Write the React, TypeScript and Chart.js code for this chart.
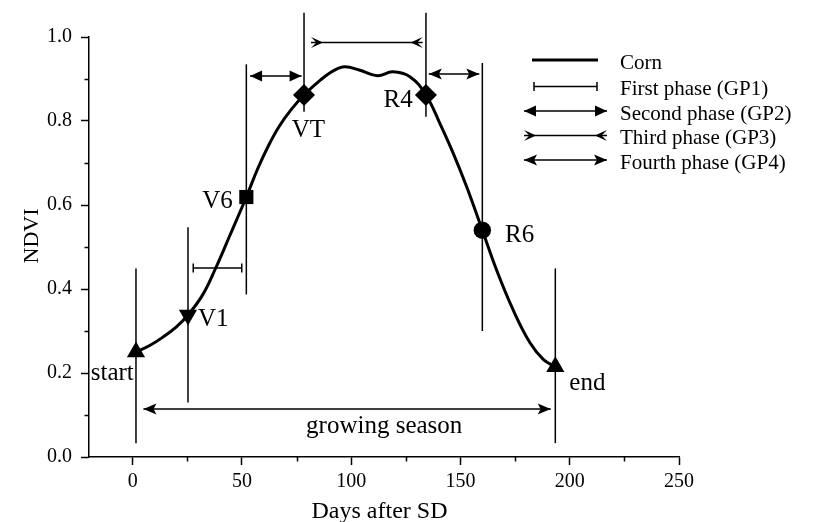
import React, { useEffect, useRef } from 'react';
import { Chart, registerables } from 'chart.js';

Chart.register(...registerables);

const FONT = "'Liberation Serif', 'Times New Roman', Times, serif";

// ---- data ----
const cornDays = [1.5, 8, 14, 20, 25.3, 32, 38, 44.5, 52, 57, 62, 67, 72.5, 78.4, 86, 92, 97, 104, 112, 119, 127, 134.2, 140.6, 146.7, 153, 160, 166.6, 174.2, 181.8, 188, 193.4];
const cornNdvi = [0.25, 0.266, 0.286, 0.31, 0.338, 0.386, 0.45, 0.528, 0.619, 0.684, 0.74, 0.787, 0.827, 0.862, 0.898, 0.92, 0.929, 0.921, 0.908, 0.917, 0.905, 0.862, 0.794, 0.723, 0.641, 0.54, 0.444, 0.349, 0.272, 0.232, 0.215];

const stageNames = ['start', 'V1', 'V6', 'VT', 'R4', 'R6', 'end'];
const stageDays = [1.5, 25.3, 52, 78.4, 134.2, 160, 193.4];
const stageNdvi = [0.25, 0.338, 0.619, 0.862, 0.862, 0.54, 0.215];
const stageLineLow = [0.033, 0.13, 0.387, 0.822, 0.81, 0.3, 0.033];
const stageLineHigh = [0.449, 0.547, 0.935, 1.058, 1.058, 0.938, 0.449];

const arrowNames = ['GP1', 'GP2', 'GP3', 'GP4', 'growing season'];
const arrowFrom = [27.7, 53.7, 81.6, 135.5, 4.9];
const arrowTo = [49.9, 77.3, 132.7, 158.6, 191.3];
const arrowNdvi = [0.45, 0.907, 0.987, 0.912, 0.114];

const labelTexts = ['start', 'V1', 'V6', 'VT', 'R4', 'R6', 'end', 'growing season'];
const labelDays = [-19.2, 29.9, 45.8, 80.4, 128.1, 170.4, 199.8, 115.1];
const labelNdvi = [0.183, 0.312, 0.593, 0.763, 0.8345, 0.511, 0.16, 0.056];

const xMajorTicks = [0, 50, 100, 150, 200, 250];
const xMinorTicks = [25, 75, 125, 175, 225];
const yMajorTicks = [0, 0.2, 0.4, 0.6, 0.8, 1.0];
const yMinorTicks = [0.1, 0.3, 0.5, 0.7, 0.9];

const legendLabels = ['Corn', 'First phase (GP1)', 'Second phase (GP2)', 'Third phase (GP3)', 'Fourth phase (GP4)'];

// ---- styles ----
const stageMarkerStyles = ['triangle', 'triangle', 'rect', 'rectRot', 'rectRot', 'circle', 'triangle'];
const stageMarkerRotation = [0, 180, 0, 0, 0, 0, 0];
const stageMarkerRadius = [10.5, 10.5, 10, 11, 11, 8.7, 10.5];
const labelAligns: CanvasTextAlign[] = ['left', 'left', 'right', 'center', 'right', 'left', 'left', 'center'];
const arrowStyles = ['cap', 'tri', 'dart', 'barb', 'barb'];
const legendStyles = ['line', 'cap', 'tri', 'dart', 'barb'];

function drawHead(ctx: CanvasRenderingContext2D, style: string, x: number, y: number, dir: number) {
  ctx.beginPath();
  if (style === 'cap') {
    ctx.moveTo(x, y - 4.5);
    ctx.lineTo(x, y + 4.5);
    ctx.stroke();
  } else if (style === 'tri') {
    const L = 12, W = 5.5;
    ctx.moveTo(x, y);
    ctx.lineTo(x - dir * L, y - W);
    ctx.lineTo(x - dir * L, y + W);
    ctx.closePath();
    ctx.fill();
  } else if (style === 'dart') {
    const L = 12, W = 5.5;
    ctx.moveTo(x, y - W);
    ctx.lineTo(x - dir * L, y);
    ctx.lineTo(x, y + W);
    ctx.lineTo(x - dir * L * 0.45, y);
    ctx.closePath();
    ctx.fill();
  } else if (style === 'barb') {
    const L = 13, W = 5.5;
    ctx.moveTo(x, y);
    ctx.lineTo(x - dir * L, y - W);
    ctx.lineTo(x - dir * L * 0.78, y);
    ctx.lineTo(x - dir * L, y + W);
    ctx.closePath();
    ctx.fill();
  }
}

const decorPlugin = {
  id: 'decor',
  afterDatasetsDraw(chart: any) {
    const ctx: CanvasRenderingContext2D = chart.ctx;
    const xs = chart.scales.x;
    const ys = chart.scales.y;
    const area = chart.chartArea;
    ctx.save();
    ctx.fillStyle = '#000';
    ctx.strokeStyle = '#000';
    ctx.lineWidth = 1.5;

    arrowNames.forEach((_, i) => {
      const x1 = xs.getPixelForValue(arrowFrom[i]);
      const x2 = xs.getPixelForValue(arrowTo[i]);
      const y = ys.getPixelForValue(arrowNdvi[i]);
      drawHead(ctx, arrowStyles[i], x1, y, -1);
      drawHead(ctx, arrowStyles[i], x2, y, 1);
    });

    ctx.beginPath();
    xMinorTicks.forEach((v) => {
      const px = Math.round(xs.getPixelForValue(v)) + 0.5;
      ctx.moveTo(px, area.bottom);
      ctx.lineTo(px, area.bottom + 4.5);
    });
    yMinorTicks.forEach((v) => {
      const py = Math.round(ys.getPixelForValue(v)) + 0.5;
      ctx.moveTo(area.left - 4.5, py);
      ctx.lineTo(area.left, py);
    });
    ctx.stroke();

    ctx.font = `25px ${FONT}`;
    ctx.textBaseline = 'alphabetic';
    labelTexts.forEach((t, i) => {
      ctx.textAlign = labelAligns[i];
      ctx.fillText(t, xs.getPixelForValue(labelDays[i]), ys.getPixelForValue(labelNdvi[i]));
    });

    ctx.font = `24px ${FONT}`;
    ctx.textAlign = 'center';
    ctx.fillText('Days after SD', (area.left + area.right) / 2 - 4.5, area.bottom + 60.5);
    ctx.save();
    ctx.translate(area.left - 56.5, (area.top + area.bottom) / 2 - 11);
    ctx.rotate(-Math.PI / 2);
    ctx.font = `22px ${FONT}`;
    ctx.textBaseline = 'middle';
    ctx.fillText('NDVI', 0, 0);
    ctx.restore();

    const lx1 = area.left + 435;
    const lx2 = area.left + 518;
    const rowY = [60, 86.5, 111, 135.5, 160];
    legendLabels.forEach((t, i) => {
      const y = rowY[i];
      const s = legendStyles[i];
      let a = lx1, b = lx2;
      if (s === 'line') { a = lx1 + 8; b = lx2 - 9; }
      if (s === 'cap') { a = lx1 + 10; b = lx2 - 10; }
      ctx.beginPath();
      ctx.lineWidth = s === 'line' ? 3 : 1.5;
      ctx.moveTo(a, y);
      ctx.lineTo(b, y);
      ctx.stroke();
      ctx.lineWidth = 1.5;
      if (s !== 'line') {
        drawHead(ctx, s, a, y, -1);
        drawHead(ctx, s, b, y, 1);
      }
      ctx.font = `21px ${FONT}`;
      ctx.textAlign = 'left';
      ctx.textBaseline = 'alphabetic';
      ctx.fillText(t, area.left + 531, y + 8.5);
    });
    ctx.restore();
  },
};

export default function App() {
  const ref = useRef<HTMLCanvasElement>(null);
  useEffect(() => {
    const canvas = ref.current;
    if (!canvas) return;
    Chart.defaults.font.family = FONT;
    Chart.defaults.color = '#000';

    const datasets: any[] = [];
    datasets.push({
      label: 'stages',
      data: stageDays.map((d, i) => ({ x: d, y: stageNdvi[i] })),
      showLine: false,
      pointStyle: stageMarkerStyles,
      pointRotation: stageMarkerRotation,
      pointRadius: stageMarkerRadius,
      pointBackgroundColor: '#000',
      pointBorderColor: '#000',
      pointBorderWidth: 0,
      clip: false,
    });
    datasets.push({
      label: 'Corn',
      data: cornDays.map((d, i) => ({ x: d, y: cornNdvi[i] })),
      showLine: true,
      borderColor: '#000',
      borderWidth: 3,
      pointRadius: 0,
      tension: 0.4,
      fill: false,
      clip: false,
    });
    stageNames.forEach((n, i) => {
      datasets.push({
        label: n + ' line',
        data: [
          { x: stageDays[i], y: stageLineLow[i] },
          { x: stageDays[i], y: stageLineHigh[i] },
        ],
        showLine: true,
        borderColor: '#000',
        borderWidth: 1.5,
        pointRadius: 0,
        clip: false,
      });
    });
    arrowNames.forEach((n, i) => {
      datasets.push({
        label: n,
        data: [
          { x: arrowFrom[i], y: arrowNdvi[i] },
          { x: arrowTo[i], y: arrowNdvi[i] },
        ],
        showLine: true,
        borderColor: '#000',
        borderWidth: 1.5,
        pointRadius: 0,
        clip: false,
      });
    });

    const chart = new Chart(canvas, {
      type: 'scatter',
      data: { datasets },
      plugins: [decorPlugin],
      options: {
        animation: false,
        responsive: false,
        devicePixelRatio: 1,
        events: [],
        layout: { padding: { left: 0, right: 140, top: 37, bottom: 0 } },
        plugins: { legend: { display: false }, tooltip: { enabled: false } },
        scales: {
          x: {
            type: 'linear',
            min: -20,
            max: 250,
            afterBuildTicks: (s: any) => { s.ticks = xMajorTicks.map((v) => ({ value: v })); },
            afterFit: (s: any) => { s.height = 65; },
            ticks: { font: { size: 20, family: FONT }, color: '#000', padding: 5, maxRotation: 0, callback: (v: any) => String(v) },
            grid: { drawOnChartArea: false, tickLength: 8, tickWidth: 1.5, tickColor: '#000', color: '#000' },
            border: { display: true, color: '#000', width: 1.5 },
          },
          y: {
            type: 'linear',
            min: 0,
            max: 1,
            afterBuildTicks: (s: any) => { s.ticks = yMajorTicks.map((v) => ({ value: v })); },
            afterFit: (s: any) => { s.width = 89; },
            ticks: { font: { size: 20, family: FONT }, color: '#000', padding: 9, callback: (v: any) => Number(v).toFixed(1) },
            grid: { drawOnChartArea: false, tickLength: 8, tickWidth: 1.5, tickColor: '#000', color: '#000' },
            border: { display: true, color: '#000', width: 1.5 },
          },
        },
      } as any,
    });
    return () => chart.destroy();
  }, []);

  return (
    <div style={{ position: 'fixed', left: 0, top: 0, width: 819, height: 522, background: '#fff' }}>
      <canvas ref={ref} width={819} height={522} style={{ width: 819, height: 522, display: 'block' }} />
    </div>
  );
}
